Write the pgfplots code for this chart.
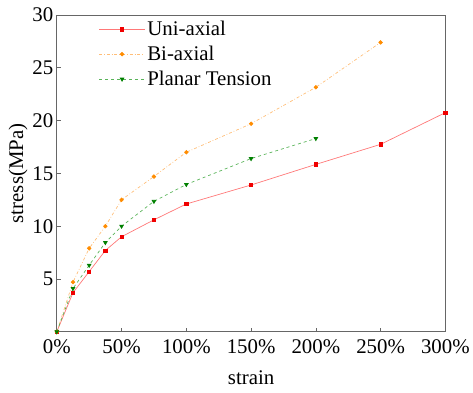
\documentclass[border=0pt]{standalone}
\usepackage{pgfplots}
\pgfplotsset{compat=1.18}
\usepackage{fontspec}
\setmainfont{Liberation Serif}
\definecolor{uniline}{RGB}{255,120,120}
\definecolor{unimark}{RGB}{240,0,0}
\definecolor{biline}{RGB}{255,190,120}
\definecolor{bimark}{RGB}{255,140,0}
\definecolor{plline}{RGB}{90,180,90}
\definecolor{plmark}{RGB}{0,128,0}
\begin{document}
\begin{tikzpicture}
\begin{axis}[
  name=ax,
  scale only axis,
  width=390bp, height=318bp,
  xmin=0, xmax=300, ymin=0, ymax=30,
  xtick={0,50,100,150,200,250,300},
  xticklabels={0\%,50\%,100\%,150\%,200\%,250\%,300\%},
  ytick={5,10,15,20,25,30},
  tick align=inside,
  xtick pos=bottom, ytick pos=left,
  major tick length=4bp,
  tick style={gray!80!black, line width=0.6pt},
  axis line style={gray!80!black, line width=0.8pt},
  /pgf/number format/assume math mode=true,
  tick label style={font=\fontsize{21}{24}\selectfont},
  xticklabel style={yshift=-4bp},
  label style={font=\fontsize{21}{24}\selectfont},
  xlabel={strain},
  ylabel={stress(MPa)},
  xlabel style={yshift=-10bp},
  ylabel style={yshift=-2bp},
  legend style={at={(0.105,0.99)}, anchor=north west, draw=none, fill=none,
    font=\fontsize{21}{24}\selectfont, row sep=5bp, inner sep=1bp,
    /tikz/every even column/.append style={column sep=0bp}},
  legend cell align=left,
  legend image code/.code={\draw[mark repeat=2,mark phase=2,#1] plot coordinates {(0bp,0bp)(23bp,0bp)(46bp,0bp)};},
]
\addplot[color=uniline, line width=0.7pt, mark=square*, mark size=1.6bp, mark options={solid, fill=unimark, draw=unimark}]
coordinates {(0,0) (12.5,3.7) (25,5.7) (37.5,7.7) (50,9.0) (75,10.6) (100,12.1) (150,13.9) (200,15.85) (250,17.75) (300,20.75)};
\addlegendentry{Uni-axial}
\addplot[color=biline, line width=0.7pt, dash dot, mark=*, mark size=1.8bp, mark options={solid, fill=bimark, draw=bimark}]
coordinates {(0,0) (12.5,4.7) (25,7.9) (37.5,10.0) (50,12.5) (75,14.7) (100,17.0) (150,19.7) (200,23.15) (250,27.4)};
\addlegendentry{Bi-axial}
\addplot[color=plline, line width=0.7pt, dashed, mark=triangle*, mark size=2.1bp, mark options={solid, rotate=180, fill=plmark, draw=plmark}]
coordinates {(0,0) (12.5,4.1) (25,6.3) (37.5,8.45) (50,10.0) (75,12.35) (100,13.95) (150,16.4) (200,18.3)};
\addlegendentry{Planar Tension}
\end{axis}
\path ([shift={(-57bp,-61bp)}]ax.south west) rectangle ([shift={(26bp,15bp)}]ax.north east);
\end{tikzpicture}
\end{document}
